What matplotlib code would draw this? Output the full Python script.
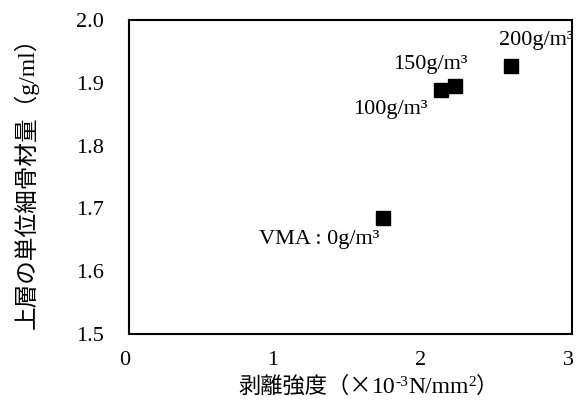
import matplotlib
matplotlib.use("Agg")
import matplotlib.pyplot as plt
from matplotlib.transforms import ScaledTranslation

# peel strength (x10^-3 N/mm2) vs. unit fine aggregate of upper layer (g/ml)
labels = ["VMA : 0g/m³", "100g/m³", "150g/m³", "200g/m³"]
strength = [1.72, 2.11, 2.21, 2.59]
density = [1.685, 1.889, 1.895, 1.927]
label_pos = [(1.29, 1.650), (1.77, 1.858), (2.04, 1.929), (2.76, 1.968)]

xticks = [0, 1, 2, 3]
yticks = [1.5, 1.6, 1.7, 1.8, 1.9, 2.0]

serif = "Liberation Serif"
gothic = "Noto Sans CJK JP"
plt.rcParams["font.family"] = [serif, "DejaVu Serif", gothic]

W, H = 576, 405
fig = plt.figure(figsize=(W / 100, H / 100), dpi=100)
ax = fig.add_axes([129 / W, 1 - 334 / H, (572 - 129) / W, (334 - 20) / H])

ax.plot(strength, density, "s", color="black", markersize=10.5, linestyle="none")

for (tx, ty), lab in zip(label_pos, labels):
    ax.text(tx, ty, lab, fontsize=16, ha="center", va="center", clip_on=False)

ax.set_xlim(0, 3)
ax.set_ylim(1.5, 2.0)
ax.set_xticks(xticks)
ax.set_yticks(yticks)
ax.set_xticklabels([str(v) for v in xticks])
ax.set_yticklabels([f"{v:.1f}" for v in yticks])
ax.tick_params(axis="x", length=0, pad=12, labelsize=16)
ax.tick_params(axis="y", length=0, pad=18, labelsize=16)
shift = ScaledTranslation(-4 / 100, 0, fig.dpi_scale_trans)
for lab in ax.get_xticklabels():
    lab.set_transform(lab.get_transform() + shift)
for sp in ax.spines.values():
    sp.set_linewidth(1.5)

ax.set_ylabel("上層の単位細骨材量（g/ml）", fontsize=17, labelpad=27)

# x label built piece by piece so the superscripts come out small
renderer = fig.canvas.get_renderer()
pieces = [
    ("剥離強度（×", gothic, 16, 0),
    ("10", serif, 17, 0),
    ("-3", serif, 11, 7),
    ("N/mm", serif, 17, 0),
    ("2", serif, 11, 7),
    ("）", gothic, 16, 0),
]
x = 238
baseline = 393
for s, fam, size, dy in pieces:
    t = fig.text(x / W, (H - baseline + dy) / H, s, family=fam, fontsize=size,
                 ha="left", va="baseline")
    x = t.get_window_extent(renderer).x1

fig.savefig("out.png", dpi=100)
